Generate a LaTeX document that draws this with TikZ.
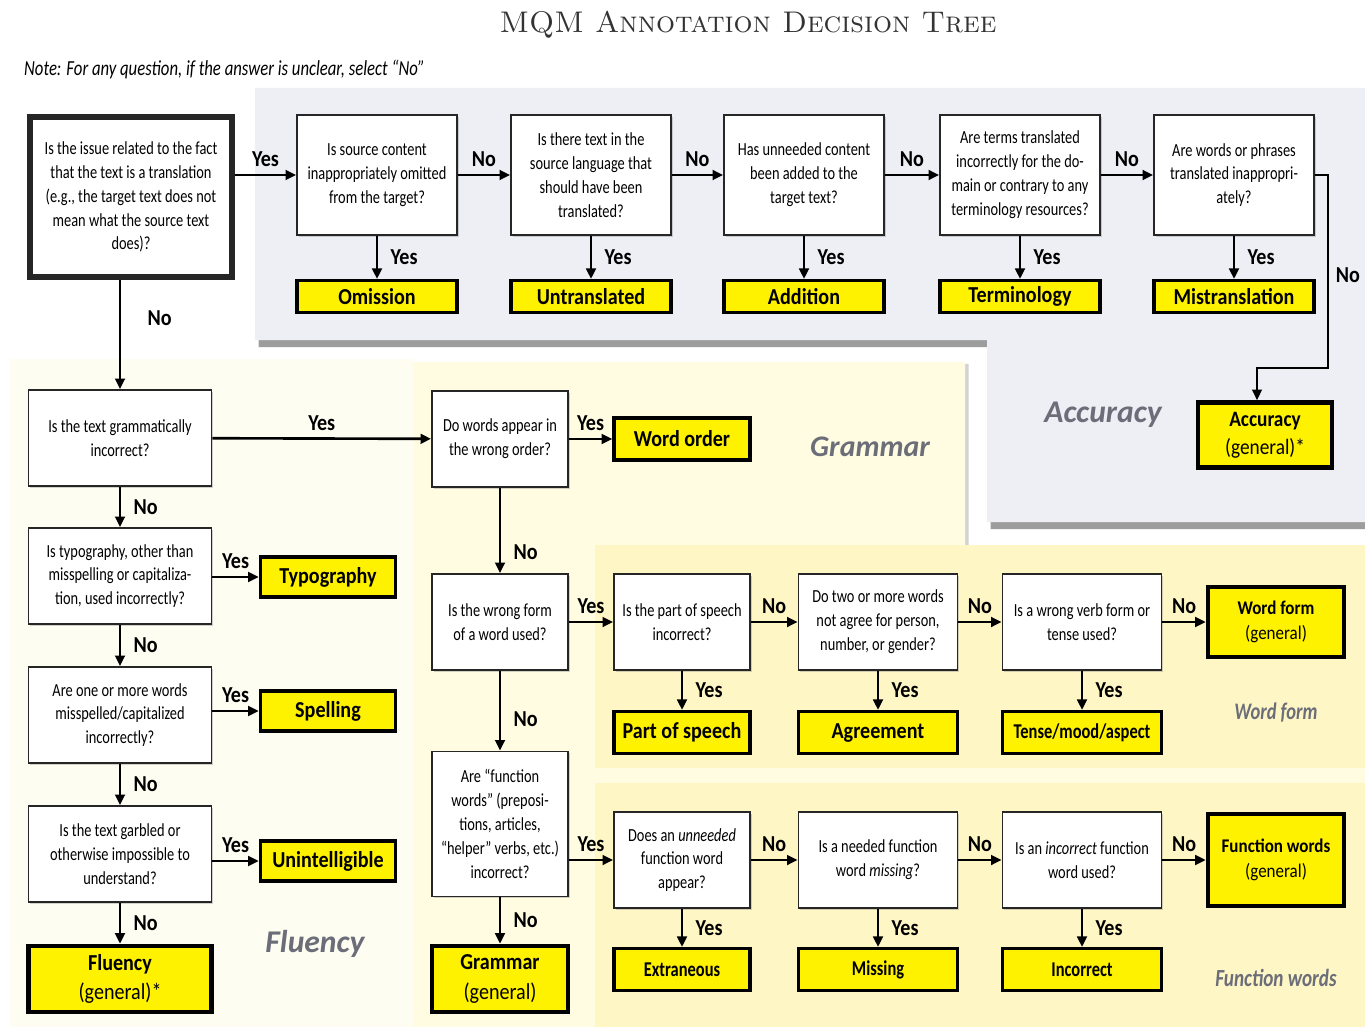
\documentclass[tikz,border=0pt]{standalone}
\usepackage{fontspec}
\usepackage{tikz}
\usetikzlibrary{positioning,arrows.meta,shadows}

\newfontfamily\cond{Carlito}[FakeStretch=0.78]
\newfontfamily\condb{Carlito}[FakeStretch=0.88]
\newfontfamily\regfont{Carlito}

\definecolor{mqmyellow}{HTML}{FFF200}
\definecolor{accbg}{HTML}{EEEFF5}
\definecolor{flubg}{HTML}{FDFDF2}
\definecolor{grbg}{HTML}{FFFCE1}
\definecolor{subbg}{HTML}{FFF6C6}
\definecolor{areagray}{HTML}{6B6E78}

\begin{document}
\begin{tikzpicture}[x=0.02cm, y=-0.02cm,
  quest/.style={draw=black!85, line width=1.1pt, fill=white, align=center,
    font=\cond\fontsize{10.5}{13.6}\selectfont, inner sep=2pt,
    drop shadow={shadow xshift=1pt, shadow yshift=-1pt, opacity=.35}},
  qtop/.style={quest, minimum width=3.2cm, minimum height=2.4cm},
  qside/.style={quest, minimum width=3.66cm, minimum height=1.92cm},
  qmid/.style={quest, minimum width=2.72cm, minimum height=1.92cm},
  qwide/.style={quest, minimum width=3.18cm, minimum height=1.92cm},
  result/.style={draw=black, line width=2pt, fill=mqmyellow, align=center,
    font=\condb\bfseries\fontsize{13}{15}\selectfont, inner sep=1pt},
  rtop/.style={result, minimum width=3.2cm, minimum height=0.64cm},
  rside/.style={result, minimum width=2.7cm, minimum height=0.8cm},
  rsub/.style={result, minimum height=0.84cm},
  general/.style={draw=black, line width=2.6pt, fill=mqmyellow, align=center,
    font=\condb\fontsize{12.5}{16}\selectfont, inner sep=1pt},
  lbl/.style={font=\condb\bfseries\fontsize{13}{15}\selectfont, inner sep=4pt},
  down/.style={lbl, right, xshift=3pt},
  arr/.style={-{Triangle[length=6pt,width=5.5pt]}, line width=1.5pt},
  area/.style={font=\regfont\bfseries\itshape\fontsize{18}{20}\selectfont, text=areagray},
]
  \useasboundingbox (0,0) rectangle (1365,1027);

  % coloured areas
  \fill[flubg] (10,359) rectangle (413,1027);
  \fill[grbg, drop shadow={shadow xshift=2pt, shadow yshift=-1pt, opacity=.35}]
    (413,362) -- (965,362) -- (965,545) -- (1365,545) -- (1365,1027) -- (413,1027) -- cycle;
  \fill[subbg] (595,545) rectangle (1365,768);
  \fill[subbg] (595,783) rectangle (1365,1027);
  \fill[accbg, drop shadow={shadow xshift=2pt, shadow yshift=-4pt, fill=black!70, opacity=.55}]
    (255,88) -- (1365,88) -- (1365,522) -- (987,522) -- (987,340) -- (255,340) -- cycle;

  \node[text=black!80, font=\fontsize{17}{19}\selectfont\scshape] (title) at (748,25) {MQM Annotation Decision Tree};
  \node[anchor=west, font=\cond\itshape\fontsize{12.2}{14}\selectfont] (note) at (18,70) {Note: For any question, if the answer is unclear, select “No”};

  % accuracy
  \node[quest, line width=3.4pt, minimum width=4.04cm, minimum height=3.22cm] (q0) at (131,197)
    {Is the issue related to the fact\\that the text is a translation\\(e.g., the target text does not\\mean what the source text\\does)?};
  \node[qtop] (acc1) at (377,175) {Is source content\\inappropriately omitted\\from the target?};
  \node[qtop] (acc2) at (591,175) {Is there text in the\\source language that\\should have been\\translated?};
  \node[qtop] (acc3) at (804,175) {Has unneeded content\\been added to the\\target text?};
  \node[qtop] (acc4) at (1020,175) {Are terms translated\\incorrectly for the do-\\main or contrary to any\\terminology resources?};
  \node[qtop] (acc5) at (1234,175) {Are words or phrases\\translated inappropri-\\ately?};
  \node[rtop, below=0.86cm of acc1] (om) {Omission};
  \node[rtop, below=0.86cm of acc2] (untr) {Untranslated};
  \node[rtop, below=0.86cm of acc3] (add) {Addition};
  \node[rtop, below=0.86cm of acc4] (term) {Terminology};
  \node[rtop, below=0.86cm of acc5] (mistr) {Mistranslation};
  \node[general, minimum width=2.68cm, minimum height=1.3cm] (accgen) at (1265,435) {\textbf{Accuracy}\\(general)*};
  \node[area] (accarea) at (1103,415) {Accuracy};
  \coordinate (accturn) at (1257,368);

  \draw[arr] (q0.east |- acc1) -- node[lbl,above]{Yes} (acc1);
  \draw[arr] (acc1) -- node[lbl,above]{No} (acc2);
  \draw[arr] (acc2) -- node[lbl,above]{No} (acc3);
  \draw[arr] (acc3) -- node[lbl,above]{No} (acc4);
  \draw[arr] (acc4) -- node[lbl,above]{No} (acc5);
  \draw[arr] (acc1) -- node[down]{Yes} (om);
  \draw[arr] (acc2) -- node[down]{Yes} (untr);
  \draw[arr] (acc3) -- node[down]{Yes} (add);
  \draw[arr] (acc4) -- node[down]{Yes} (term);
  \draw[arr] (acc5) -- node[down]{Yes} (mistr);
  \draw[arr, line width=1pt] (acc5.east) -| node[lbl,right,pos=0.76]{No} (1328,368) -- (accturn) -- (accturn |- accgen.north);

  % fluency
  \node[qside] (flu1) at (120,438) {Is the text grammatically\\incorrect?};
  \node[qside] (flu2) at (120,576) {Is typography, other than\\misspelling or capitaliza-\\tion, used incorrectly?};
  \node[qside] (flu3) at (120,715) {Are one or more words\\misspelled/capitalized\\incorrectly?};
  \node[qside] (flu4) at (120,854) {Is the text garbled or\\otherwise impossible to\\understand?};
  \node[general, minimum width=3.66cm, minimum height=1.32cm, font=\condb\fontsize{13}{17}\selectfont] (flugen) at (120,979) {\textbf{Fluency}\\(general)*};
  \node[rside] (typo) at (328,577) {Typography};
  \node[rside] (spell) at (328,711) {Spelling};
  \node[rside] (unint) at (328,861) {Unintelligible};
  \node[area] (fluarea) at (315,944) {Fluency};

  \draw[arr] (q0.south -| flu1) -- node[down,xshift=8pt,pos=0.35]{No} (flu1);
  \draw[arr] (flu1) -- node[down]{No} (flu2);
  \draw[arr] (flu2) -- node[down]{No} (flu3);
  \draw[arr] (flu3) -- node[down]{No} (flu4);
  \draw[arr] (flu4) -- node[down]{No} (flugen);
  \draw[arr] (flu2.east |- typo) -- node[lbl,above]{Yes} (typo);
  \draw[arr] (flu3.east |- spell) -- node[lbl,above]{Yes} (spell);
  \draw[arr] (flu4.east |- unint) -- node[lbl,above]{Yes} (unint);

  % grammar
  \node[qmid] (gr1) at (500,439) {Do words appear in\\the wrong order?};
  \node[qmid] (gr2) at (500,622) {Is the wrong form\\of a word used?};
  \node[qmid, minimum height=2.9cm] (gr3) at (500,824) {Are “function\\words” (preposi-\\tions, articles,\\“helper” verbs, etc.)\\incorrect?};
  \node[general, minimum width=2.72cm, minimum height=1.32cm, font=\condb\fontsize{13}{17}\selectfont] (grgen) at (500,979) {\textbf{Grammar}\\(general)};
  \node[rsub, minimum width=2.72cm] (wordord) at (682,439) {Word order};
  \node[area, font=\regfont\bfseries\itshape\fontsize{17}{20}\selectfont] (grarea) at (870,447) {Grammar};

  \draw[arr] (flu1) -- node[lbl,above]{Yes} (gr1);
  \draw[arr] (gr1) -- node[lbl,above]{Yes} (wordord);
  \draw[arr] (gr1) -- node[down,pos=0.75]{No} (gr2);
  \draw[arr] (gr2) -- node[down,pos=0.6]{No} (gr3);
  \draw[arr] (gr3) -- node[down]{No} (grgen);

  % word form
  \node[qmid] (wf1) at (682,622) {Is the part of speech\\incorrect?};
  \node[qwide] (wf2) at (878,622) {Do two or more words\\not agree for person,\\number, or gender?};
  \node[qwide] (wf3) at (1082,622) {Is a wrong verb form or\\tense used?};
  \node[general, minimum width=2.72cm, minimum height=1.4cm, font=\condb\fontsize{11}{14.5}\selectfont] (wfgen) at (1276,622) {\textbf{Word form}\\(general)};
  \node[rsub, minimum width=2.72cm, below=0.78cm of wf1] (pos) {Part of speech};
  \node[rsub, minimum width=3.18cm, below=0.78cm of wf2] (agree) {Agreement};
  \node[rsub, minimum width=3.18cm, below=0.78cm of wf3, font=\cond\bfseries\fontsize{12}{14}\selectfont] (tense) {Tense/mood/aspect};
  \node[area, font=\cond\bfseries\itshape\fontsize{13.5}{15}\selectfont] (wfarea) at (1276,713) {Word form};

  \draw[arr] (gr2) -- node[lbl,above]{Yes} (wf1);
  \draw[arr] (wf1) -- node[lbl,above]{No} (wf2);
  \draw[arr] (wf2) -- node[lbl,above]{No} (wf3);
  \draw[arr] (wf3) -- node[lbl,above]{No} (wfgen);
  \draw[arr] (wf1) -- node[down]{Yes} (pos);
  \draw[arr] (wf2) -- node[down]{Yes} (agree);
  \draw[arr] (wf3) -- node[down]{Yes} (tense);

  % function words
  \node[qmid] (fw1) at (682,860) {Does an \textit{unneeded}\\function word\\appear?};
  \node[qwide] (fw2) at (878,860) {Is a needed function\\word \textit{missing}?};
  \node[qwide] (fw3) at (1082,860) {Is an \textit{incorrect} function\\word used?};
  \node[general, minimum width=2.72cm, minimum height=1.84cm, font=\condb\fontsize{11}{14.5}\selectfont] (fwgen) at (1276,860) {\textbf{Function words}\\(general)};
  \node[rsub, minimum width=2.72cm, below=0.76cm of fw1, font=\cond\bfseries\fontsize{12}{14}\selectfont] (extr) {Extraneous};
  \node[rsub, minimum width=3.18cm, below=0.76cm of fw2, font=\cond\bfseries\fontsize{12}{14}\selectfont] (miss) {Missing};
  \node[rsub, minimum width=3.18cm, below=0.76cm of fw3, font=\cond\bfseries\fontsize{12}{14}\selectfont] (incor) {Incorrect};
  \node[area, font=\cond\bfseries\itshape\fontsize{14}{16}\selectfont] (fwarea) at (1276,978) {Function words};

  \draw[arr] (gr3.east |- fw1) -- node[lbl,above]{Yes} (fw1);
  \draw[arr] (fw1) -- node[lbl,above]{No} (fw2);
  \draw[arr] (fw2) -- node[lbl,above]{No} (fw3);
  \draw[arr] (fw3) -- node[lbl,above]{No} (fwgen);
  \draw[arr] (fw1) -- node[down]{Yes} (extr);
  \draw[arr] (fw2) -- node[down]{Yes} (miss);
  \draw[arr] (fw3) -- node[down]{Yes} (incor);
\end{tikzpicture}
\end{document}
